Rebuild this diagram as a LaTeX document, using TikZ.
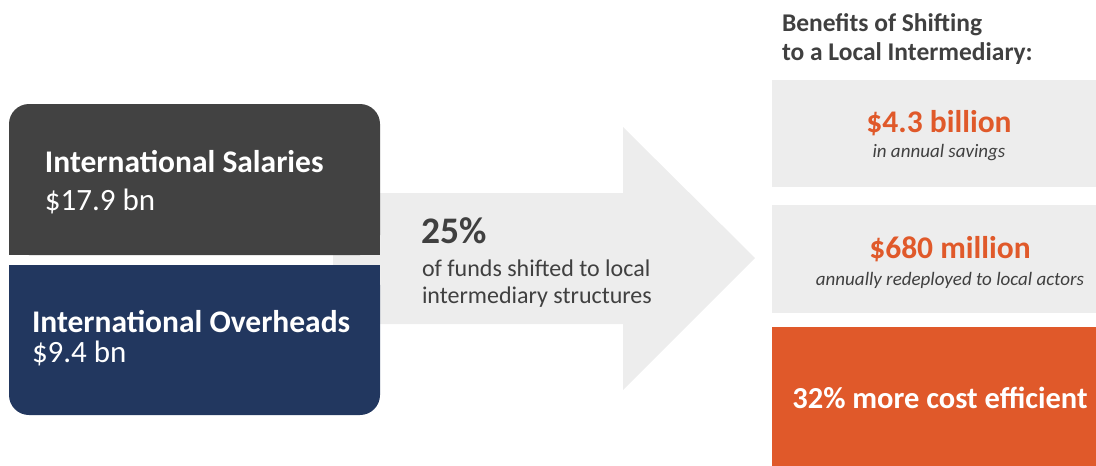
\documentclass[tikz,border=0pt]{standalone}
\usepackage{fontspec}
\setmainfont{Carlito}
\definecolor{darkgrey}{HTML}{424242}
\definecolor{navy}{HTML}{22375F}
\definecolor{lightgrey}{HTML}{EDEDED}
\definecolor{accent}{HTML}{E0592A}
\definecolor{bodytext}{HTML}{404040}
\newcommand{\fs}[1]{\fontsize{#1pt}{#1pt}\selectfont}
\tikzset{
  lbl/.style={inner sep=0pt, outer sep=0pt},
  boxtitle/.style={lbl, anchor=base west, text=white, font=\fs{31.5}\bfseries},
  boxvalue/.style={lbl, anchor=base west, text=white, font=\fs{31}},
  bigfig/.style={lbl, anchor=base, text=accent, font=\fs{31.5}\bfseries},
  smallnote/.style={lbl, anchor=base, text=bodytext, font=\fs{19}\itshape},
  caption/.style={lbl, anchor=base west, text=bodytext, font=\fs{24}},
  heading/.style={lbl, anchor=base west, text=bodytext, font=\fs{25.5}\bfseries},
}
\begin{document}
\begin{tikzpicture}[x=1pt,y=-1pt]
\useasboundingbox (0,0) rectangle (1096,466);

% flow arrow behind the cost boxes
\fill[lightgrey] (333,193) -- (623,193) -- (623,127) -- (755,258)
  -- (623,390) -- (623,324) -- (333,324) -- cycle;

% cost boxes
\fill[darkgrey, rounded corners=20pt] (9,104) rectangle (380,255);
\fill[darkgrey] (9,200) rectangle (380,255);
\fill[navy, rounded corners=20pt] (9,265) rectangle (380,415);
\fill[navy] (9,265) rectangle (380,320);

\node[boxtitle] (sal) at (45,172) {International Salaries};
\node[boxvalue] (salv) at (45,210) {\$17.9 bn};
\node[boxtitle] (ovh) at (32,332) {International Overheads};
\node[boxvalue] (ovhv) at (32,362) {\$9.4 bn};

% arrow caption
\node[lbl, anchor=base west, text=bodytext, font=\fs{37.5}\bfseries] (pct) at (421,243) {25\%};
\node[caption] (sh1) at (422,276) {of funds shifted to local};
\node[caption] (sh2) at (422,303) {intermediary structures};

% benefits column
\node[heading] (h1) at (782,31) {Benefits of Shifting};
\node[heading] (h2) at (782,60) {to a Local Intermediary:};

\fill[lightgrey] (772,80) rectangle (1100,187);
\fill[lightgrey] (772,205) rectangle (1100,313);
\fill[accent] (772,327) rectangle (1100,470);

\node[bigfig] (b1) at (939,132) {\$4.3 billion};
\node[smallnote] (b1n) at (939,157) {in annual savings};
\node[bigfig] (b2) at (950,258) {\$680 million};
\node[smallnote] (b2n) at (950,285) {annually redeployed to local actors};
\node[lbl, anchor=base, text=white, font=\fs{30.5}\bfseries] (b3) at (940,408) {32\% more cost efficient};
\end{tikzpicture}
\end{document}
